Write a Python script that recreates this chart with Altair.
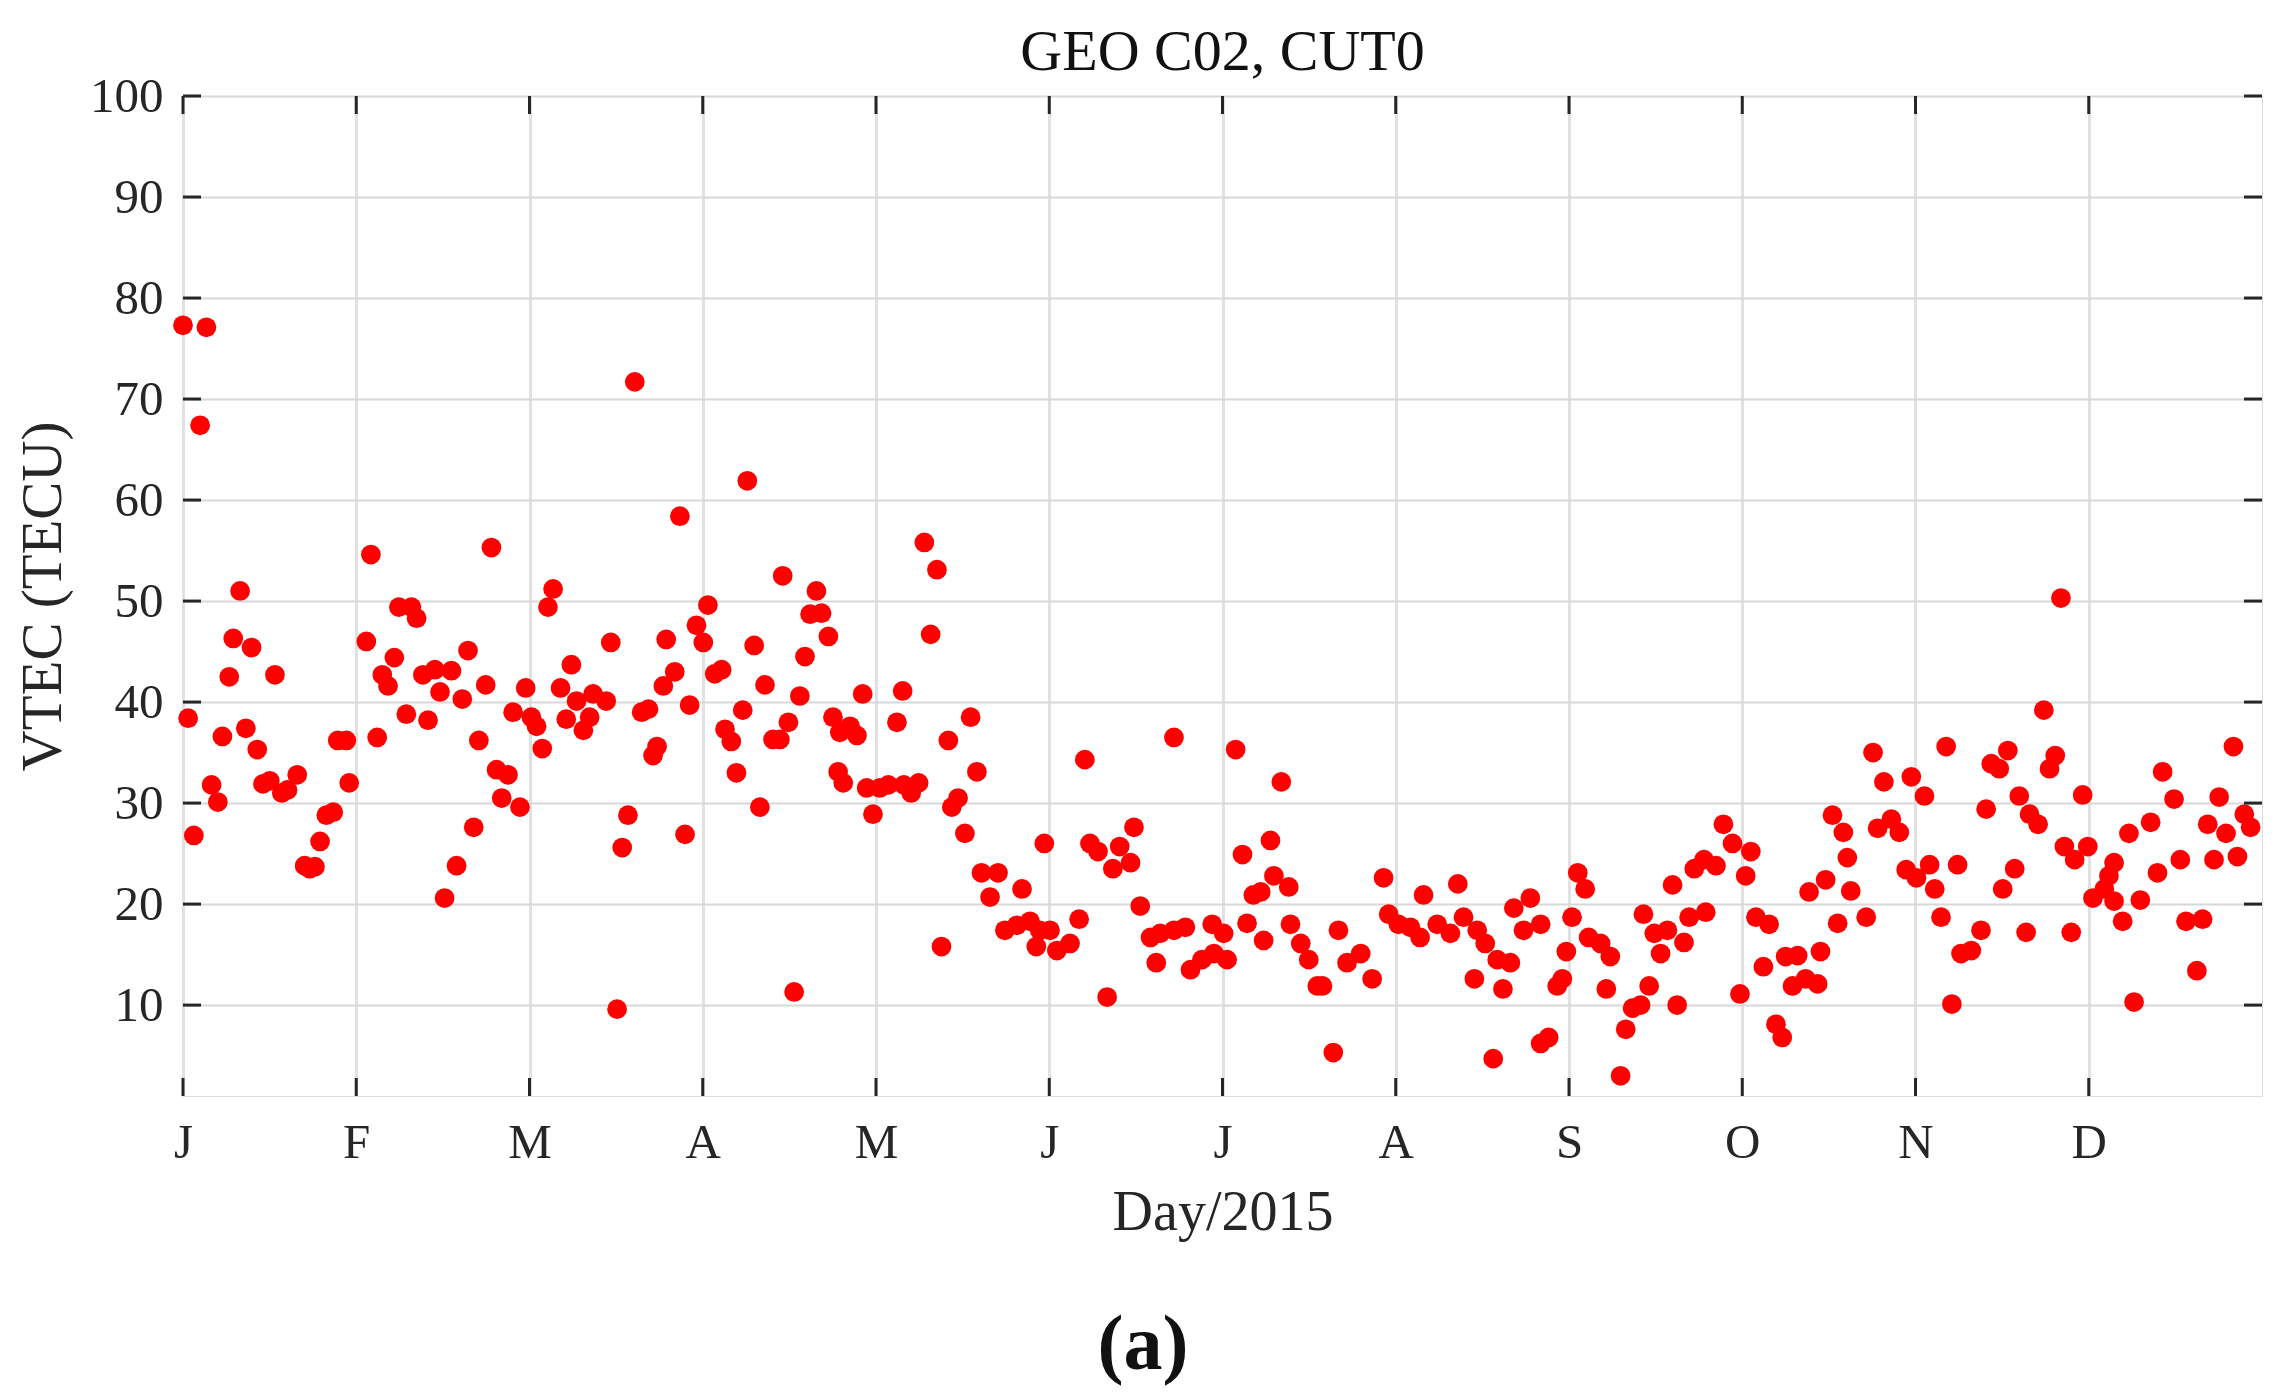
import altair as alt
import pandas as pd

# (day of year, VTEC in TECU), grouped by quarter
q1 = [(1.0, 77.3), (1.9, 38.4), (2.9, 26.8), (4.0, 67.4), (5.1, 77.1), (6.0, 31.8), (7.1, 30.1),
      (7.9, 36.6), (9.1, 42.5), (9.8, 46.3), (11.0, 51.0), (12.0, 37.4), (13.0, 45.4), (14.0, 35.3),
      (15.0, 31.9), (16.2, 32.2), (17.1, 42.7), (18.3, 31.0), (19.3, 31.3), (21.0, 32.8), (22.3, 23.8),
      (23.2, 23.5), (24.1, 23.7), (25.0, 26.2), (26.1, 28.8), (27.3, 29.1), (28.1, 36.2), (29.6, 36.2),
      (30.1, 32.0), (33.1, 46.0), (33.9, 54.6), (35.0, 36.5), (35.9, 42.7), (36.9, 41.6), (38.0, 44.4),
      (38.8, 49.4), (40.1, 38.8), (41.0, 49.4), (41.9, 48.3),
      (43.0, 42.7), (43.9, 38.2), (45.1, 43.2), (46.0, 41.0), (46.8, 20.6), (48.0, 43.1), (48.9, 23.8),
      (49.9, 40.3), (50.9, 45.1), (51.9, 27.6), (52.8, 36.2), (54.0, 41.7), (55.0, 55.3), (55.9, 33.3),
      (56.8, 30.5), (57.9, 32.8), (58.8, 39.0), (60.0, 29.6), (61.0, 41.4), (62.0, 38.5), (62.9, 37.6),
      (63.9, 35.4), (64.9, 49.4), (65.8, 51.2), (67.1, 41.4), (68.1, 38.3), (69.0, 43.7), (69.9, 40.1),
      (71.1, 37.2), (72.2, 38.5), (72.8, 40.8), (75.1, 40.1), (75.9, 45.9), (77.0, 9.6), (77.9, 25.6),
      (78.9, 28.8), (80.1, 71.7), (81.3, 39.0), (82.5, 39.3), (83.3, 34.7), (84.0, 35.6),
      (85.1, 41.6), (85.6, 46.2), (87.1, 43.0), (88.0, 58.4), (88.9, 26.9), (89.7, 39.7), (90.9, 47.6)]

q2 = [(92.1, 45.9), (92.9, 49.6), (94.1, 42.8), (95.3, 43.2), (95.9, 37.3), (97.0, 36.1), (97.9, 33.0),
      (99.0, 39.2), (99.8, 61.9), (101.0, 45.6), (102.0, 29.6), (102.9, 41.7), (104.3, 36.3), (105.5, 36.3),
      (106.0, 52.5), (107.0, 38.0), (108.0, 11.3), (109.0, 40.6), (109.9, 44.5), (110.8, 48.7), (111.9, 51.0),
      (112.8, 48.8), (114.0, 46.5), (114.8, 38.5), (115.7, 33.1), (116.0, 37.0), (116.6, 32.0), (117.8, 37.6),
      (119.0, 36.7), (120.0, 40.8), (120.7, 31.5), (121.8, 28.9), (123.0, 31.5), (124.5, 31.8), (126.0, 38.0),
      (127.0, 41.1), (127.2, 31.8), (128.5, 31.0), (129.8, 32.0), (130.8, 55.8), (131.9, 46.7), (133.0, 53.1),
      (133.8, 15.8), (135.0, 36.2), (135.6, 29.6), (136.7, 30.5), (137.9, 27.0), (138.9, 38.5), (140.0, 33.1),
      (140.8, 23.1), (142.3, 20.7), (143.7, 23.1), (144.9, 17.4), (147.0, 17.9), (147.9, 21.5), (149.3, 18.3),
      (150.4, 15.8), (151.0, 17.4), (151.8, 26.0), (152.8, 17.4), (154.0, 15.4), (156.3, 16.1), (157.9, 18.5),
      (158.9, 34.3), (159.8, 26.0), (161.2, 25.2), (162.8, 10.8), (163.8, 23.5), (165.0, 25.7), (166.9, 24.1),
      (167.5, 27.6), (168.6, 19.8), (170.4, 16.7), (171.4, 14.2), (172.1, 17.1), (174.5, 17.4), (174.5, 36.5),
      (176.5, 17.7), (177.4, 13.5), (179.4, 14.5), (181.2, 18.0), (181.5, 15.1)]

q3 = [(183.2, 17.1), (183.8, 14.5), (185.3, 35.3), (186.5, 24.9), (187.3, 18.1), (188.4, 20.9), (189.7, 21.2),
      (190.2, 16.4), (191.4, 26.3), (192.0, 22.8), (193.3, 32.1), (194.6, 21.7), (194.9, 18.0), (196.7, 16.1),
      (198.1, 14.5), (199.6, 11.9), (200.5, 11.9), (202.4, 5.3), (203.3, 17.4), (204.8, 14.2), (207.2, 15.1),
      (209.2, 12.6), (211.2, 22.6), (212.1, 19.0), (213.8, 18.0), (215.9, 17.7), (217.6, 16.7), (218.2, 20.9),
      (220.6, 18.0), (222.9, 17.1), (224.2, 22.0), (225.2, 18.7), (227.1, 12.6), (227.6, 17.4), (229.0, 16.1),
      (230.4, 4.7), (231.1, 14.5), (232.1, 11.6), (233.4, 14.2), (234.0, 19.6), (235.7, 17.4), (236.9, 20.6),
      (238.7, 18.0), (238.7, 6.2), (240.1, 6.8), (241.6, 11.9), (242.5, 12.6), (243.2, 15.3), (244.2, 18.7),
      (245.2, 23.1), (246.5, 21.5), (247.1, 16.7), (249.2, 16.1), (250.2, 11.6), (250.9, 14.8), (252.7, 3.0),
      (253.6, 7.6), (254.8, 9.7), (256.2, 10.0), (256.7, 19.0), (257.7, 11.9), (258.6, 17.1), (259.7, 15.1),
      (260.9, 17.4), (261.8, 21.9), (262.6, 10.0), (263.8, 16.2), (264.7, 18.7), (265.6, 23.5), (267.3, 24.4),
      (267.6, 19.2), (269.4, 23.8), (270.7, 27.9), (272.3, 26.0), (273.6, 11.1)]

q4 = [(274.6, 22.8), (275.5, 25.2), (276.4, 18.7), (277.7, 13.8), (278.7, 18.0), (279.9, 8.1), (281.0, 6.8),
      (281.6, 14.8), (282.8, 11.9), (283.7, 14.9), (285.1, 12.6), (285.7, 21.2), (287.2, 12.1), (287.7, 15.3),
      (288.6, 22.4), (289.8, 28.8), (290.7, 18.1), (291.7, 27.1), (292.4, 24.6), (293.0, 21.3), (295.7, 18.7),
      (296.9, 35.0), (297.7, 27.5), (298.8, 32.1), (300.1, 28.4), (301.5, 27.1), (302.7, 23.4), (303.6, 32.6),
      (304.5, 22.6), (305.9, 30.7), (306.8, 23.9), (307.7, 21.5), (308.8, 18.7), (309.7, 35.6), (310.7, 10.1),
      (311.7, 23.9), (312.3, 15.1), (314.1, 15.4), (315.8, 17.4), (316.7, 29.4), (317.6, 33.9), (319.0, 33.4),
      (319.6, 21.5), (320.5, 35.2), (321.7, 23.5), (322.5, 30.7), (323.7, 17.2), (324.3, 28.9), (325.8, 27.9),
      (326.8, 39.2), (327.8, 33.4), (328.8, 34.7), (329.8, 50.3), (330.4, 25.7), (331.6, 17.2), (332.2, 24.4),
      (333.6, 30.8), (334.5, 25.7), (335.4, 20.6), (337.4, 21.5), (338.2, 22.8), (339.1, 24.1), (339.1, 20.3),
      (340.6, 18.3), (341.7, 27.0), (342.6, 10.3), (343.7, 20.4), (345.5, 28.1), (346.7, 23.1), (347.6, 33.1),
      (349.6, 30.4), (350.7, 24.4), (351.7, 18.3), (353.6, 13.4), (354.6, 18.5), (355.5, 27.9), (356.6, 24.4),
      (357.5, 30.6), (358.7, 27.0), (360.0, 35.6), (360.7, 24.7), (361.9, 28.9), (363.0, 27.6)]

month_labels = ["J", "F", "M", "A", "M", "J", "J", "A", "S", "O", "N", "D"]
month_ticks = [1, 31.33, 61.67, 92, 122.33, 152.67, 183, 213.33, 243.67, 274, 304.33, 334.67]
y_ticks = [10, 20, 30, 40, 50, 60, 70, 80, 90, 100]
title_text = "GEO C02, CUT0"
caption_text = "(a)"

points_all = q1 + q2 + q3 + q4
df = pd.DataFrame(points_all, columns=["day", "vtec"])

W, H = 2079, 1000
FONT = "Liberation Serif"
INK = "#262626"
TL = 18  # inward tick length

# label expression: value -> month initial
expr = ""
for t, lab in zip(month_ticks, month_labels):
    expr += f"datum.value < {t + 5} ? '{lab}' : "
expr += "''"

xscale = alt.Scale(domain=[1, 365], nice=False, zero=False)
yscale = alt.Scale(domain=[1, 100], nice=False, zero=False)

x_axis = alt.Axis(values=month_ticks, labelExpr=expr, title="Day/2015",
                  grid=True, gridColor="#e1e1e1", gridWidth=3, ticks=False, tickSize=0,
                  domain=False, labelFont=FONT, labelFontSize=49, labelColor=INK,
                  labelPadding=61, labelBaseline="alphabetic", labelFlush=False, labelOverlap=False,
                  titleFont=FONT, titleFontSize=56, titleFontWeight="normal", titleColor=INK,
                  titleBaseline="alphabetic", titleY=133)
y_axis = alt.Axis(values=y_ticks, title="VTEC (TECU)",
                  grid=True, gridColor="#d8d8d8", gridWidth=2, ticks=False, tickSize=0,
                  domain=False, labelFont=FONT, labelFontSize=49, labelColor=INK,
                  labelPadding=20, labelFlush=False, labelOverlap=False,
                  titleFont=FONT, titleFontSize=57, titleFontWeight="normal", titleColor=INK,
                  titleAngle=270, titleAlign="center", titleBaseline="middle",
                  titleX=-140, titleY=H / 2)

points = alt.Chart(df).mark_circle(size=390, color="#ff0000", opacity=1).encode(
    x=alt.X("day:Q", scale=xscale, axis=x_axis),
    y=alt.Y("vtec:Q", scale=yscale, axis=y_axis),
)

xt = pd.DataFrame({"day": month_ticks})
yt = pd.DataFrame({"vtec": y_ticks})
tick_style = dict(color=INK, strokeWidth=3)

xt_bottom = alt.Chart(xt).mark_rule(**tick_style).encode(
    x=alt.X("day:Q", scale=xscale, axis=x_axis), y=alt.value(H), y2=alt.value(H - TL))
xt_top = alt.Chart(xt).mark_rule(**tick_style).encode(
    x=alt.X("day:Q", scale=xscale, axis=x_axis), y=alt.value(0), y2=alt.value(TL))
yt_left = alt.Chart(yt).mark_rule(**tick_style).encode(
    y=alt.Y("vtec:Q", scale=yscale, axis=y_axis), x=alt.value(0), x2=alt.value(TL))
yt_right = alt.Chart(yt).mark_rule(**tick_style).encode(
    y=alt.Y("vtec:Q", scale=yscale, axis=y_axis), x=alt.value(W), x2=alt.value(W - TL))

title_mark = alt.Chart(pd.DataFrame({"c": [title_text]})).mark_text(
    font=FONT, fontSize=58, color="#111111", align="center", baseline="alphabetic"
).encode(text="c:N", x=alt.value(W / 2), y=alt.value(-26))

caption = alt.Chart(pd.DataFrame({"c": [caption_text]})).mark_text(
    font=FONT, fontSize=78, fontWeight="bold", color="#111111", align="center", baseline="middle"
).encode(text="c:N", x=alt.value(960), y=alt.value(1250))

chart = alt.layer(points, xt_bottom, xt_top, yt_left, yt_right, title_mark, caption).properties(
    width=W, height=H,
    padding={"left": 175, "top": 88, "right": 11, "bottom": 295},
    autosize=alt.AutoSizeParams(type="none"),
).configure_view(stroke=INK, strokeWidth=3).configure(background="white")

chart.save("out.html", embed_options={"renderer": "svg", "actions": False})
